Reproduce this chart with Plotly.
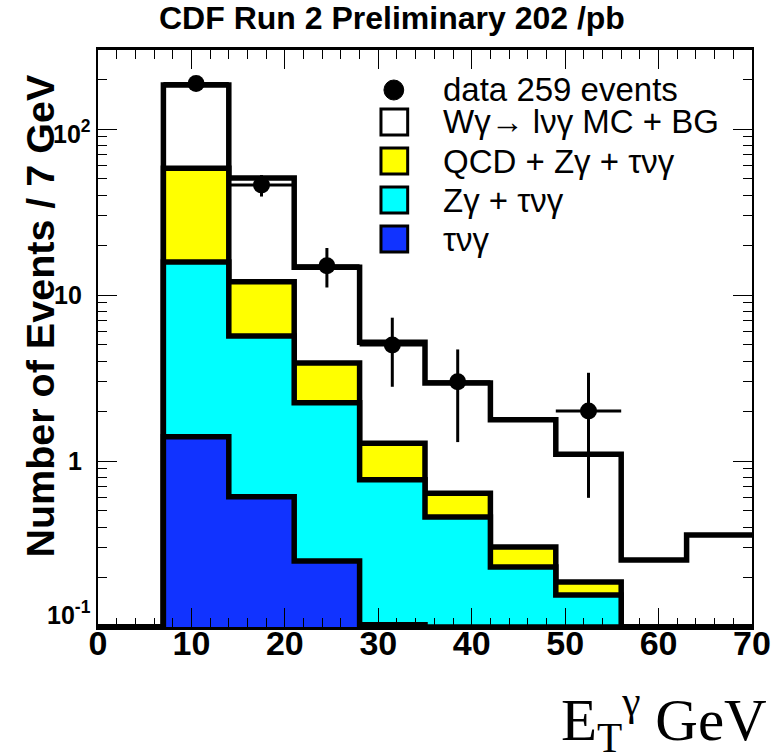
import math
import plotly.graph_objects as go

# ---------------- data ----------------
bin_edges = [0, 7, 14, 21, 28, 35, 42, 49, 56, 63, 70]
total_mc = [0, 184, 50.7, 14.7, 5.2, 2.95, 1.77, 1.10, 0.253, 0.358]   # W gamma -> l nu gamma MC + BG
qcd_zg_tau = [0, 58, 12.0, 3.9, 1.28, 0.64, 0.303, 0.187, 0, 0]       # QCD + Z gamma + tau nu gamma
zg_tau = [0, 15.8, 5.66, 2.24, 0.77, 0.46, 0.23, 0.156, 0, 0]         # Z gamma + tau nu gamma
tau_nu_g = [0, 1.4, 0.61, 0.25, 0.103, 0, 0, 0, 0, 0]                  # tau nu gamma

data_x = [10.5, 17.5, 24.5, 31.5, 38.5, 52.5]
data_y = [188, 46, 15, 5, 3, 2]
data_err_up = [13.7, 6.8, 4.2, 2.3, 1.7, 1.4]
data_err_dn = [13.7, 6.8, 3.9, 2.2, 1.7, 1.4]
data_xerr = [3.5, 3.5, 3.5, 3.5, 3.5, 3.5]

y_tick_vals = [0.1, 1, 10, 100]
y_tick_text = ["10<sup>-1</sup>", "1", "10", "10<sup>2</sup>"]
x_tick_vals = [0, 10, 20, 30, 40, 50, 60, 70]

legend_labels = ["data 259 events", "W\u03b3\u2192 l\u03bd\u03b3 MC + BG",
                 "QCD + Z\u03b3 + \u03c4\u03bd\u03b3", "Z\u03b3 + \u03c4\u03bd\u03b3", "\u03c4\u03bd\u03b3"]
colors = ["#FFFFFF", "#FFFF00", "#00FFFF", "#1133FF"]

# ---------------- geometry ----------------
W, H = 783, 754
L, R, T, B = 98, 759, 50, 627
YMIN_LOG, YMAX_LOG = -1, 2.476
YMIN = 10 ** YMIN_LOG
FLOOR = 1e-3


def px_x(p):
    return (p - L) / (R - L)


def px_y(p):
    return (B - p) / (B - T)


def step_path(values, zero_val):
    xs, ys = [], []
    for i, v in enumerate(values):
        vv = v if v > 0 else zero_val
        xs += [bin_edges[i], bin_edges[i + 1]]
        ys += [vv, vv]
    return xs, ys


fig = go.Figure()

for vals, col in zip([total_mc, qcd_zg_tau, zg_tau, tau_nu_g], colors):
    fx, fy = step_path(vals, FLOOR)
    fx = [bin_edges[0]] + fx + [bin_edges[-1]]
    fy = [FLOOR] + fy + [FLOOR]
    fig.add_trace(go.Scatter(x=fx, y=fy, mode="lines", fill="toself",
                             fillcolor=col, line=dict(width=0, color=col),
                             hoverinfo="skip", showlegend=False))
    lx, ly = step_path(vals, YMIN)
    fig.add_trace(go.Scatter(x=lx, y=ly, mode="lines",
                             line=dict(color="black", width=5.5),
                             hoverinfo="skip", showlegend=False))

fig.add_trace(go.Scatter(
    x=data_x, y=data_y, mode="markers",
    marker=dict(color="black", size=17, symbol="circle"),
    error_y=dict(type="data", symmetric=False, array=data_err_up,
                 arrayminus=data_err_dn, thickness=3, width=0, color="black"),
    error_x=dict(type="data", array=data_xerr, thickness=3, width=0, color="black"),
    showlegend=False))

minor_y = []
for d in [0.1, 1, 10, 100]:
    for k in range(2, 10):
        v = d * k
        if v < 10 ** YMAX_LOG:
            minor_y.append(v)

tickfont = dict(family="Liberation Sans, Arial, sans-serif", size=34, color="black", weight="bold")

fig.update_layout(
    width=W, height=H,
    margin=dict(l=L, r=W - R, t=T, b=H - B),
    paper_bgcolor="white", plot_bgcolor="white",
    showlegend=False,
    xaxis=dict(range=[0, 70], tickvals=x_tick_vals, ticks="inside", ticklen=19,
               tickwidth=1.2, tickcolor="black", showline=True, linecolor="black",
               linewidth=3, mirror="ticks", showgrid=False, zeroline=False,
               tickfont=tickfont, ticklabelstandoff=-16,
               minor=dict(dtick=2, tick0=0, ticks="inside", ticklen=9, tickwidth=1.2,
                          tickcolor="black", showgrid=False)),
    yaxis=dict(type="log", range=[YMIN_LOG, YMAX_LOG], tickvals=y_tick_vals,
               ticks="inside", ticklen=19, tickwidth=1.2, showticklabels=False,
               tickcolor="black", showline=True, linecolor="black", linewidth=1.5,
               mirror="ticks", showgrid=False, zeroline=False,
               minor=dict(tickvals=minor_y, ticks="inside", ticklen=9, tickwidth=1.2,
                          tickcolor="black", showgrid=False)),
)

annotations = [
    dict(text="<b>CDF Run 2 Preliminary 202 /pb</b>", x=px_x(395), y=px_y(18),
         xref="paper", yref="paper", xanchor="center", yanchor="middle", showarrow=False,
         font=dict(family="Liberation Sans, Arial, sans-serif", size=32, color="black")),
    dict(text="<b>Number of Events / 7 GeV</b>", x=px_x(39), y=px_y(316), textangle=-90,
         xref="paper", yref="paper", xanchor="center", yanchor="middle", showarrow=False,
         font=dict(family="Liberation Sans, Arial, sans-serif", size=39.5, color="black")),
    dict(text="E<sub>T</sub><sup>\u03b3</sup> GeV", x=px_x(776), y=px_y(719),
         xref="paper", yref="paper", xanchor="right", yanchor="middle", showarrow=False,
         font=dict(family="Liberation Serif, Times New Roman, serif", size=59, color="black")),
]

# y tick labels (text placed at the tick values on the log axis)
for v, txt in zip(y_tick_vals, y_tick_text):
    has_sup = "<sup>" in txt
    annotations.append(dict(
        text="<b>" + txt + "</b>", x=px_x(93 if has_sup else 84), y=math.log10(v),
        xref="paper", yref="y", xanchor="right", yanchor="middle", showarrow=False,
        yshift=(14 if v == y_tick_vals[0] else (-3 if has_sup else 0)),
        font=dict(family="Liberation Sans, Arial, sans-serif", size=25, color="black")))

row_y = [90, 122, 161, 200, 239]
for lab, ry in zip(legend_labels, row_y):
    annotations.append(dict(text=lab, x=px_x(445), y=px_y(ry), xref="paper", yref="paper",
                            xanchor="left", yanchor="middle", showarrow=False,
                            font=dict(family="Liberation Sans, Arial, sans-serif", size=33,
                                      color="black")))

shapes = [dict(type="circle", xref="paper", yref="paper",
               x0=px_x(387), x1=px_x(407), y0=px_y(row_y[0] + 10), y1=px_y(row_y[0] - 10),
               fillcolor="black", line=dict(color="black", width=1))]
for col, ry in zip(colors, row_y[1:]):
    shapes.append(dict(type="rect", xref="paper", yref="paper",
                       x0=px_x(384), x1=px_x(411), y0=px_y(ry + 13), y1=px_y(ry - 13),
                       fillcolor=col, line=dict(color="black", width=3)))

fig.update_layout(annotations=annotations, shapes=shapes)

fig.write_html("out.html")
